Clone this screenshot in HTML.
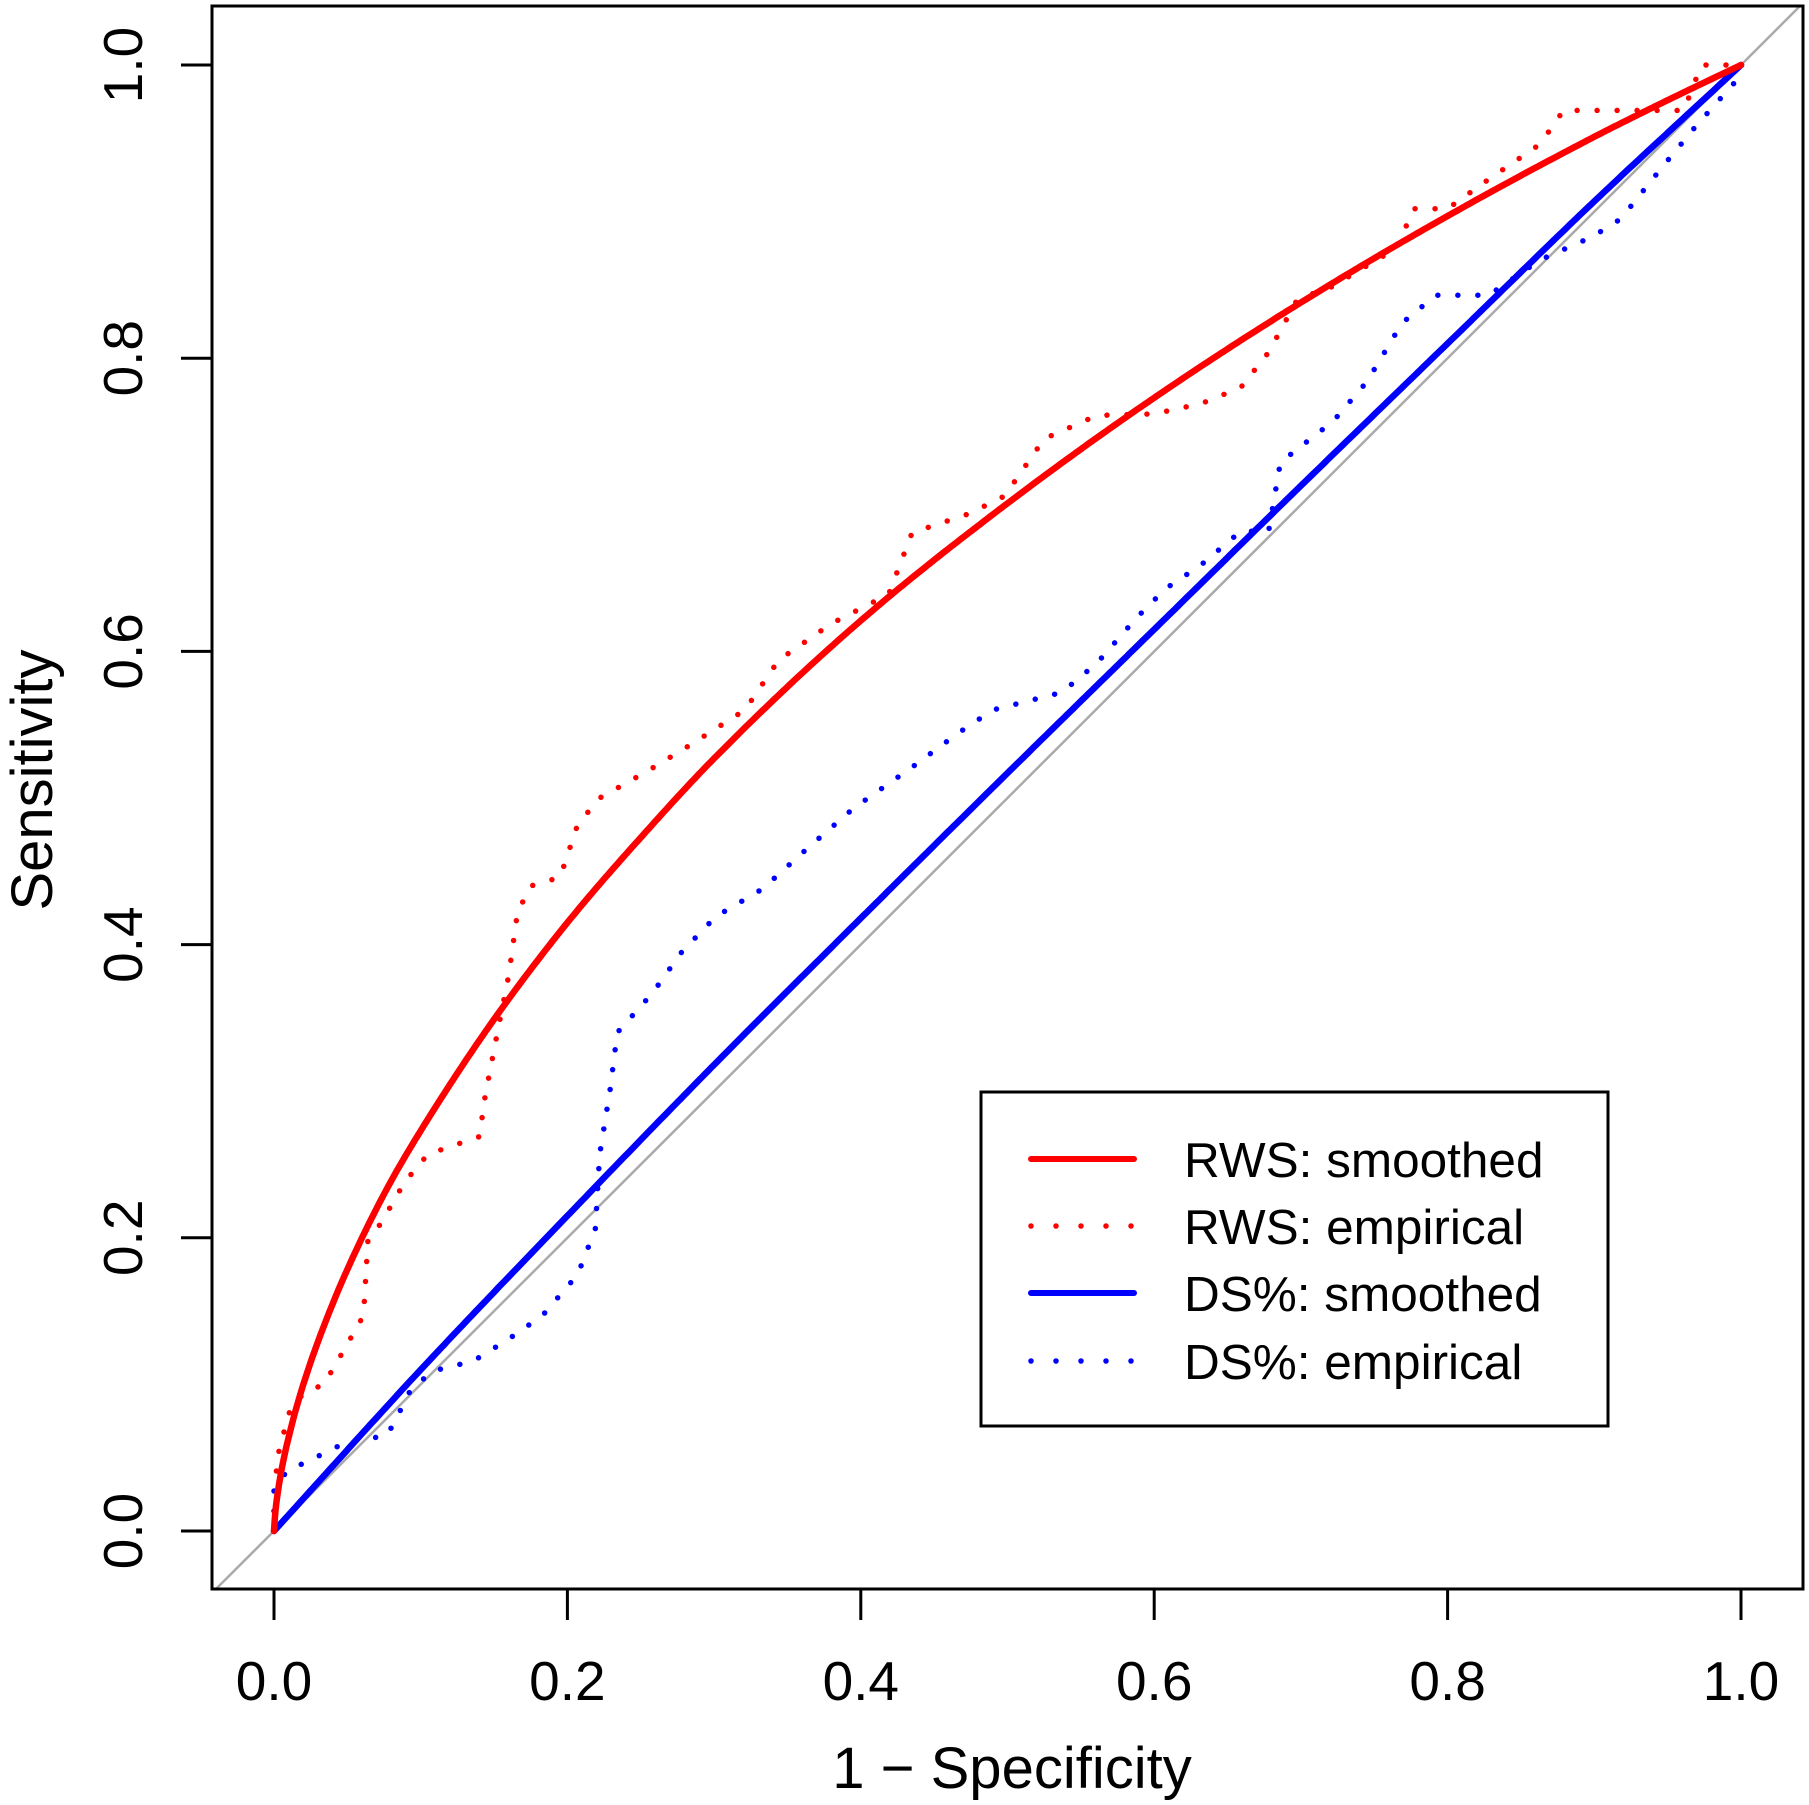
<!DOCTYPE html>
<html><head><meta charset="utf-8"><style>
html,body{margin:0;padding:0;background:#fff}
svg{display:block}
text{font-family:"Liberation Sans",sans-serif;fill:#000}
</style></head><body>
<svg id="chart" width="1809" height="1805" viewBox="0 0 1809 1805">
<g id="plot"></g>
</svg>
<script>
const xTicks=[0,0.2,0.4,0.6,0.8,1.0];
const yTicks=[0,0.2,0.4,0.6,0.8,1.0];
const tickLabels=["0.0","0.2","0.4","0.6","0.8","1.0"];
const rwsSmoothX=[0,0.001,0.002,0.005,0.01,0.02,0.04,0.06,0.08,0.1,0.15,0.2,0.25,0.3,0.4,0.5,0.6,0.7,0.8,0.9,0.95,1];
const rwsSmoothY=[0,0.014,0.022,0.041,0.064,0.100,0.155,0.200,0.239,0.273,0.349,0.415,0.473,0.527,0.621,0.701,0.773,0.838,0.897,0.951,0.976,1];
const dsSmoothX=[0,0.1,0.2,0.3,0.4,0.5,0.6,0.7,0.8,0.9,1];
const dsSmoothY=[0,0.11,0.215,0.318,0.418,0.517,0.615,0.713,0.81,0.907,1];
const rwsEmpX=[0,0.002,0.01,0.02,0.034,0.048,0.061,0.064,0.073,0.089,0.105,0.14,0.144,0.153,0.16,0.166,0.175,0.195,0.207,0.222,0.254,0.285,0.321,0.344,0.38,0.419,0.435,0.474,0.498,0.525,0.561,0.6,0.632,0.659,0.678,0.698,0.718,0.765,0.777,0.8,0.828,0.863,0.879,0.914,0.961,0.973,1];
const rwsEmpY=[0,0.049,0.08,0.094,0.1,0.124,0.147,0.198,0.21,0.238,0.257,0.269,0.297,0.344,0.379,0.422,0.44,0.446,0.482,0.5,0.518,0.537,0.56,0.594,0.619,0.639,0.681,0.694,0.706,0.745,0.761,0.762,0.769,0.78,0.804,0.841,0.847,0.875,0.902,0.902,0.922,0.946,0.969,0.969,0.969,1.0,1];
const dsEmpX=[0,0,0.009,0.026,0.05,0.077,0.085,0.093,0.108,0.136,0.16,0.183,0.207,0.219,0.222,0.229,0.234,0.258,0.278,0.301,0.333,0.364,0.395,0.435,0.466,0.49,0.537,0.561,0.588,0.608,0.632,0.659,0.678,0.686,0.722,0.745,0.769,0.792,0.828,0.863,0.899,0.918,0.946,0.969,1];
const dsEmpY=[0,0.029,0.041,0.049,0.061,0.065,0.08,0.096,0.109,0.116,0.131,0.147,0.175,0.206,0.257,0.3,0.34,0.367,0.395,0.419,0.438,0.466,0.493,0.521,0.544,0.56,0.572,0.592,0.623,0.643,0.659,0.682,0.682,0.729,0.757,0.784,0.824,0.843,0.843,0.867,0.883,0.895,0.93,0.958,0.993];

const X0=274,XW=1467,Y0=1531,YH=1466;
const sx=v=>X0+v*XW, sy=v=>Y0-v*YH;
const NS="http://www.w3.org/2000/svg";
const g=document.getElementById('plot');
function mk(tag,attrs,parent){const e=document.createElementNS(NS,tag);for(const k in attrs)e.setAttribute(k,attrs[k]);(parent||g).appendChild(e);return e;}

const clip=mk('clipPath',{id:'cp'});mk('rect',{x:212,y:6,width:1591,height:1583},clip);
const diag=mk('line',{x1:sx(-0.05),y1:sy(-0.05),x2:sx(1.05),y2:sy(1.05),stroke:'#aaa','stroke-width':2.5,'clip-path':'url(#cp)'});



// monotone cubic (Fritsch-Carlson) interpolation in x, sampled densely for drawing
function monotonePts(xs,ys){
  const n=xs.length,d=[],m=new Array(n);
  for(let i=0;i<n-1;i++)d.push((ys[i+1]-ys[i])/(xs[i+1]-xs[i]));
  m[0]=d[0];m[n-1]=d[n-2];
  for(let i=1;i<n-1;i++){
    if(d[i-1]*d[i]<=0)m[i]=0;
    else{const w1=2*(xs[i+1]-xs[i])+(xs[i]-xs[i-1]),w2=(xs[i+1]-xs[i])+2*(xs[i]-xs[i-1]);m[i]=(w1+w2)/(w1/d[i-1]+w2/d[i]);}
  }
  const P=[];
  for(let i=0;i<n-1;i++){
    const h=xs[i+1]-xs[i],steps=Math.max(2,Math.ceil(h*XW/3));
    for(let k=0;k<steps;k++){
      const t=k/steps,t2=t*t,t3=t2*t;
      const y=(2*t3-3*t2+1)*ys[i]+(t3-2*t2+t)*h*m[i]+(-2*t3+3*t2)*ys[i+1]+(t3-t2)*h*m[i+1];
      P.push([sx(xs[i]+t*h),sy(y)]);
    }
  }
  P.push([sx(xs[n-1]),sy(ys[n-1])]);
  return P;
}
function series(xs,ys,color,dotted,name,smooth){
  const P=smooth?monotonePts(xs,ys):xs.map((x,i)=>[sx(x),sy(ys[i])]);
  const d=P.map((p,i)=>(i?'L':'M')+p[0].toFixed(1)+' '+p[1].toFixed(1)).join(' ');
  const p=mk('path',{d:d,fill:'none',stroke:color,'stroke-width':dotted?5.5:6.5,'stroke-linecap':'round','stroke-linejoin':'round'});
  if(dotted)p.setAttribute('stroke-dasharray','0 20');
  
  
}
series(rwsEmpX,rwsEmpY,'#f00',true,'rws-empirical-line',false);
series(dsEmpX,dsEmpY,'#00f',true,'ds-empirical-line',false);
series(dsSmoothX,dsSmoothY,'#00f',false,'ds-smoothed-line',true);
series(rwsSmoothX,rwsSmoothY,'#f00',false,'rws-smoothed-line',true);

const box=mk('rect',{x:212,y:6,width:1591,height:1583,fill:'none',stroke:'#000','stroke-width':3});



const xa=mk('g',{});


mk('line',{x1:sx(0),y1:1589,x2:sx(1),y2:1589,stroke:'#000','stroke-width':3},xa);
xTicks.forEach((t,i)=>{
  mk('line',{x1:sx(t),y1:1589,x2:sx(t),y2:1620,stroke:'#000','stroke-width':3},xa);
  const tx=mk('text',{x:sx(t),y:1700,'text-anchor':'middle','font-size':55},xa);
  tx.textContent=tickLabels[i];
  
  
});
const ya=mk('g',{});


mk('line',{x1:212,y1:sy(0),x2:212,y2:sy(1),stroke:'#000','stroke-width':3},ya);
yTicks.forEach((t,i)=>{
  mk('line',{x1:181,y1:sy(t),x2:212,y2:sy(t),stroke:'#000','stroke-width':3},ya);
  const tx=mk('text',{x:0,y:0,'text-anchor':'middle','font-size':55,transform:`translate(142,${sy(t)}) rotate(-90)`},ya);
  tx.textContent=tickLabels[i];
  
  
});
const xt=mk('text',{x:1012,y:1788,'text-anchor':'middle','font-size':58});
xt.textContent='1 − Specificity';


const yt=mk('text',{x:0,y:0,'text-anchor':'middle','font-size':58,transform:'translate(52,780) rotate(-90)'});
yt.textContent='Sensitivity';



const lg=mk('g',{});


mk('rect',{x:981,y:1092,width:627,height:334,fill:'#fff',stroke:'#000','stroke-width':3},lg);
const legLabels=['RWS: smoothed','RWS: empirical','DS%: smoothed','DS%: empirical'];
const legColors=['#f00','#f00','#00f','#00f'];
const legDotted=[false,true,false,true];
const legY=[1159,1226,1293,1361];
legLabels.forEach((lab,i)=>{
  const e=mk('g',{},lg);
  
  
  const l=mk('line',{x1:1031,y1:legY[i],x2:1134,y2:legY[i],stroke:legColors[i],'stroke-width':6,'stroke-linecap':'round'},e);
  if(legDotted[i]){l.setAttribute('stroke-dasharray','0 25');l.setAttribute('stroke-width',5.5);}
  const t=mk('text',{x:1184,y:legY[i]+18,'font-size':49.5},e);
  t.textContent=lab;
});
</script>
</body></html>
